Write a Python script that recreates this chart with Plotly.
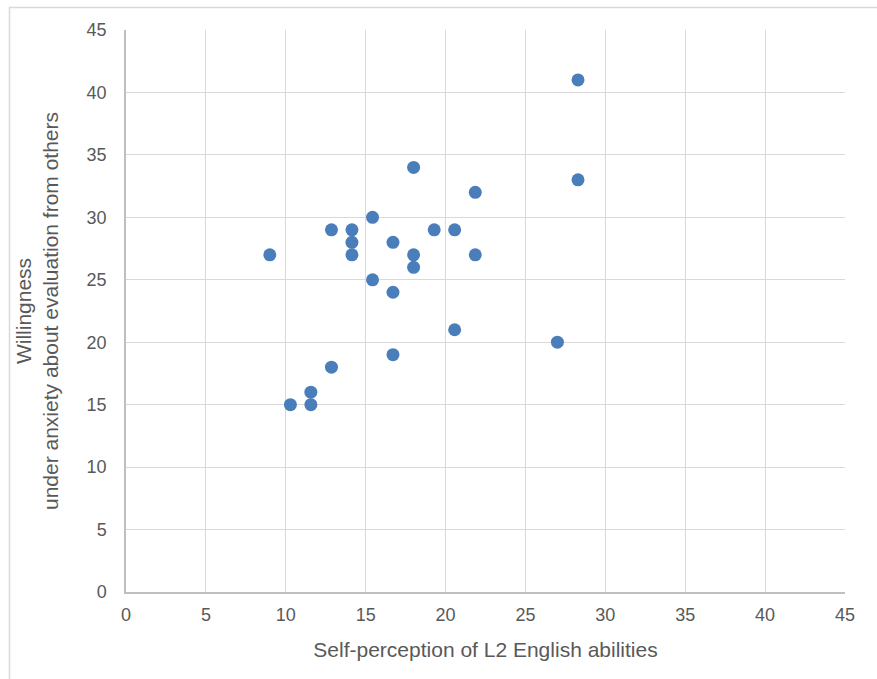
import plotly.graph_objects as go

self_perception = [9.0, 10.29, 11.57, 11.57, 12.86, 12.86, 14.14, 14.14, 14.14,
                   15.43, 15.43, 16.71, 16.71, 16.71, 18.0, 18.0, 18.0, 19.29,
                   20.57, 20.57, 21.86, 21.86, 27.0, 28.29, 28.29]
willingness = [27, 15, 16, 15, 29, 18, 29, 28, 27,
               30, 25, 28, 24, 19, 34, 27, 26, 29,
               29, 21, 32, 27, 20, 41, 33]

x_title = "Self-perception of L2 English abilities"
y_title = "Willingness<br>under anxiety about evaluation from others"

W, H = 877, 679
L, R, T, B = 126, 32, 30, 87
pw, ph = W - L - R, H - T - B

fig = go.Figure(go.Scatter(
    x=self_perception, y=willingness, mode="markers",
    marker=dict(size=13, color="#4a7ebb", line=dict(width=0)),
    showlegend=False, cliponaxis=False,
))

font = dict(family="Liberation Sans, Arial, sans-serif", color="#595959")

fig.update_layout(
    width=W, height=H,
    margin=dict(l=L, r=R, t=T, b=B),
    paper_bgcolor="white", plot_bgcolor="white",
    font=font,
    xaxis=dict(range=[0, 45], tick0=0, dtick=5, showgrid=True, gridcolor="#d9d9d9",
               gridwidth=1, showline=True, linecolor="#bfbfbf", linewidth=1.5,
               zeroline=False, ticks="", ticklabelstandoff=6, tickfont=dict(size=18, **font),
               title=dict(text=x_title, font=dict(size=21, **font), standoff=18)),
    yaxis=dict(range=[0, 45], tick0=0, dtick=5, showgrid=True, gridcolor="#d9d9d9",
               gridwidth=1, showline=True, linecolor="#bfbfbf", linewidth=1.5,
               zeroline=False, ticks="", ticklabelstandoff=14, tickfont=dict(size=18, **font),
               title=dict(text=y_title, font=dict(size=21, **font), standoff=22)),
    shapes=[dict(type="rect", xref="paper", yref="paper",
                 x0=(9.5 - L) / pw, x1=(W + 20 - L) / pw,
                 y0=(H - B - (H + 20)) / ph, y1=(H - B - 7.5) / ph,
                 line=dict(color="#d9d9d9", width=1.5), layer="below")],
)

fig.write_html("out.html", config={"displayModeBar": False},
               post_script="document.body.style.margin='0';document.body.style.overflow='hidden';")
